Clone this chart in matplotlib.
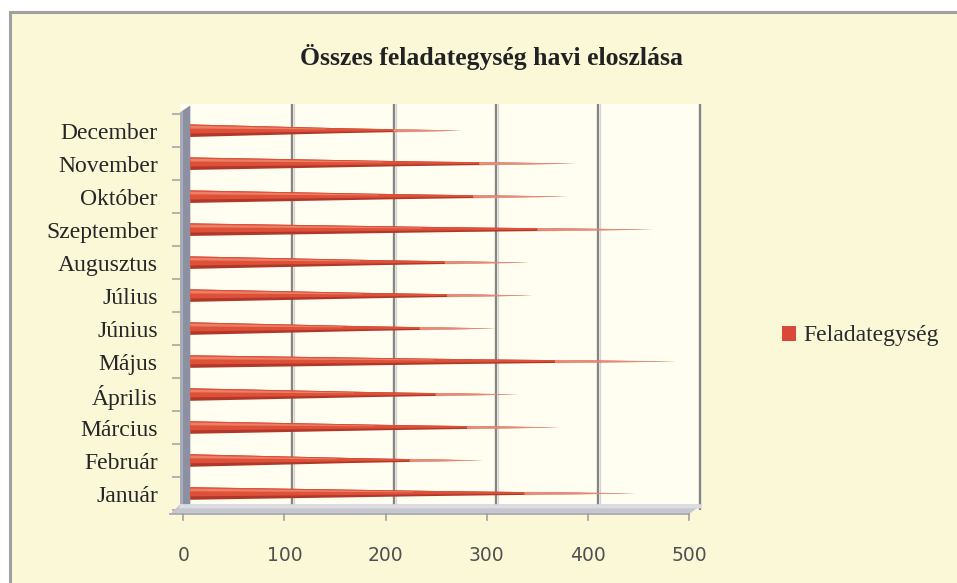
import matplotlib
matplotlib.use("Agg")
import matplotlib.pyplot as plt
from matplotlib.patches import Patch, Rectangle
from matplotlib.transforms import ScaledTranslation

months = ["Január", "Február", "Március", "Április", "Május", "Június",
          "Július", "Augusztus", "Szeptember", "Október", "November", "December"]
values = [437, 287, 362, 321, 477, 300, 336, 333, 454, 370, 378, 266]
xticks = [0, 100, 200, 300, 400, 500]
title = "Összes feladategység havi eloszlása"
series_name = "Feladategység"

W, H, DPI = 957, 583, 100
BG = "#FBF8D8"
fig = plt.figure(figsize=(W / DPI, H / DPI), dpi=DPI, facecolor=BG)

# outer chart border (scanned page edge)
fig.patches.append(Rectangle((0, 0), 1, 1, transform=fig.transFigure,
                             facecolor="white", edgecolor="none", zorder=-3))
fig.patches.append(Rectangle((10 / W, -0.05), 1.0, 1 - 12 / H + 0.05,
                             transform=fig.transFigure, facecolor=BG,
                             edgecolor="#A0A0A0", lw=2.2, zorder=-2))

# axes geometry (pixels)
ax_left, ax_right, ax_top, ax_bot = 180, 702, 104, 510
ax = fig.add_axes([ax_left / W, 1 - ax_bot / H, (ax_right - ax_left) / W,
                   (ax_bot - ax_top) / H])
ax.set_facecolor("#FFFEF0")
xmin, xmax = -10, 502
ymin, ymax = -0.33, 11.81
ax.set_xlim(xmin, xmax)
ax.set_ylim(ymin, ymax)
for s in ax.spines.values():
    s.set_visible(False)

pxx = (ax_right - ax_left) / (xmax - xmin)   # px per data unit x
pxy = (ax_bot - ax_top) / (ymax - ymin)      # px per data unit y

# back-wall gridlines
for v in xticks[1:]:
    ax.axvline(v, color="#858585", lw=1.7, zorder=1)
    ax.axvline(v + 1.6, color="#D5D5D5", lw=0.9, zorder=1)

# left wall
ax.fill([xmin, 0, 0, xmin], [ymin, ymin, ymax - 0.05, ymax - 0.25],
        color="#A8ACBA", zorder=2, lw=0)
ax.fill([xmin + 3, 0, 0, xmin + 3], [ymin, ymin, ymax - 0.05, ymax - 0.2],
        color="#8C90A0", zorder=2, lw=0)

# floor (outside axes)
fy = ymin - 10 / pxy
def front_x(v):
    return v - (7 + 4 * v / 500) / pxx
ax.fill([xmin, xmax, front_x(xmax) - 2, front_x(xmin) - 3], [ymin, ymin, fy, fy],
        color="#C6C6CE", zorder=2, lw=0, clip_on=False)
ax.fill([xmin, xmax, xmax - 1, xmin - 1], [ymin, ymin, ymin - 4 / pxy, ymin - 4 / pxy],
        color="#DCDCE2", zorder=2, lw=0, clip_on=False)
ax.plot([front_x(xmin) - 3, front_x(xmax) - 2], [fy, fy], color="#ABABB3", lw=1.3,
        zorder=2, clip_on=False)
for v in xticks:
    fx = front_x(v)
    ax.plot([fx, fx], [fy, fy - 6 / pxy], color="#A0A0A0", lw=1.2, clip_on=False, zorder=2)

# cones (perspective-like taper)
h = 0.19
for i, v in enumerate(values):
    # full body, dark underside
    ax.fill([0, 0.55 * v, v, 0.55 * v, 0],
            [i - h, i - 0.4 * h, i, i + 0.4 * h, i + h],
            color="#B0382A", lw=0, zorder=3)
    # main red face
    ax.fill([0, 0.55 * v, 0.98 * v, 0.55 * v, 0],
            [i - 0.45 * h, i - 0.12 * h, i + 0.01, i + 0.4 * h, i + h],
            color="#DF5038", lw=0, zorder=3)
    # highlight on upper side
    ax.fill([0, 0.5 * v, 0.5 * v, 0],
            [i + 0.35 * h, i + 0.2 * h, i + 0.32 * h, i + 0.8 * h],
            color="#EC7F66", lw=0, zorder=3)
    # faded tip
    ax.fill([0.75 * v, v, 0.75 * v],
            [i - 0.28 * h, i, i + 0.28 * h],
            color="#EFA894", lw=0, zorder=3, alpha=0.7)

# y labels
ax.set_yticks(range(len(months)))
ax.set_yticklabels(months, family="Liberation Serif", fontsize=17, color="#262626")
ax.set_yticks([i + 0.5 for i in range(-1, len(months))], minor=True)
ax.tick_params(axis="y", which="major", length=0, pad=16)
ax.tick_params(axis="y", which="minor", length=6, width=1.2, color="#A8A8A8")

# x labels on the front edge
ax.set_xticks(xticks)
ax.set_xticklabels([str(v) for v in xticks], family="DejaVu Sans", fontsize=13.5,
                   color="#505050")
ax.tick_params(axis="x", length=0, pad=26)
for v, lab in zip(xticks, ax.get_xticklabels()):
    off = -(7 + 4 * v / 500) / DPI
    lab.set_transform(lab.get_transform() + ScaledTranslation(off, 0, fig.dpi_scale_trans))

fig.text(491 / W, 1 - 57 / H, title, ha="center", va="center",
         family="Liberation Serif", fontweight="bold", fontsize=18.5, color="#222222")

leg = ax.legend(handles=[Patch(facecolor="#D9483A", edgecolor="none", label=series_name)],
                loc="center left", bbox_to_anchor=(770 / W, 1 - 336 / H),
                bbox_transform=fig.transFigure, frameon=False, borderpad=0,
                handlelength=0.6, handleheight=0.6, handletextpad=0.3,
                prop={"family": "Liberation Serif", "size": 17})
for t in leg.get_texts():
    t.set_color("#2A2A2A")

fig.savefig("out.png", dpi=DPI, facecolor=fig.get_facecolor())
